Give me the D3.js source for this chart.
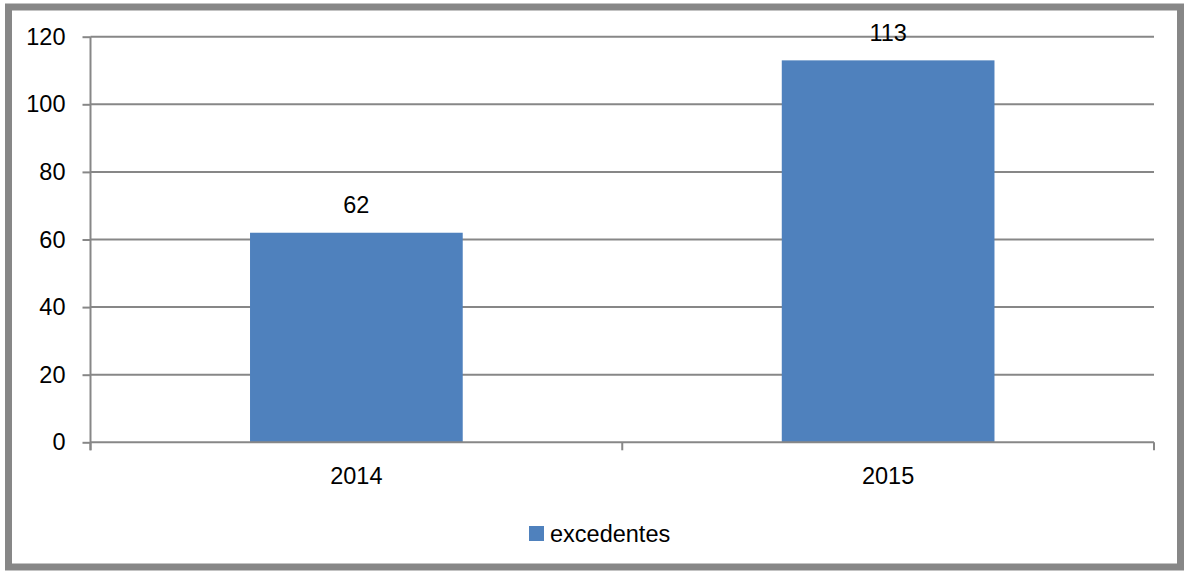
<!DOCTYPE html>
<html>
<head>
<meta charset="utf-8">
<script src="https://cdn.jsdelivr.net/npm/d3@7"></script>
<style>
  html, body { margin: 0; padding: 0; background: #fff; }
  svg { display: block; }
  text { font-family: "Liberation Sans", Arial, sans-serif; fill: #000; }
</style>
</head>
<body>
<svg id="chart" width="1184" height="572"></svg>
<script>
const categories = ["2014", "2015"];
const seriesName = "excedentes";
const values = [62, 113];
const yTicks = [0, 20, 40, 60, 80, 100, 120];

(function () {
const svg = d3.select("#chart");
const fontSize = 23.5;
const gray = "#878787";
const barColor = "#4F81BD";

// outer frame
svg.append("rect")
  .attr("x", 8.5).attr("y", 7)
  .attr("width", 1172).attr("height", 560)
  .attr("fill", "#fff")
  .attr("stroke", gray)
  .attr("stroke-width", 7);

const pLeft = 90.5, pRight = 1154, pTop = 36.7, pBottom = 442.3;

const x = d3.scaleBand().domain(categories).range([pLeft, pRight]).paddingInner(0.6).paddingOuter(0.3);
const xOuter = d3.scaleBand().domain(categories).range([pLeft, pRight]).padding(0);
const y = d3.scaleLinear().domain([0, 120]).range([pBottom, pTop]);

// gridlines
svg.append("g").selectAll("line").data(yTicks.filter(d => d !== 0)).join("line")
  .attr("x1", pLeft).attr("x2", pRight)
  .attr("y1", d => y(d)).attr("y2", d => y(d))
  .attr("stroke", gray).attr("stroke-width", 2);

// y axis
const yAxis = svg.append("g").attr("transform", `translate(${pLeft},0)`)
  .call(d3.axisLeft(y).tickValues(yTicks).tickSize(8).tickPadding(17).tickFormat(d3.format("d")));
yAxis.select(".domain").attr("stroke", gray).attr("stroke-width", 2).attr("d", `M0,${pTop}V${pBottom + 8}`);
yAxis.selectAll(".tick line").attr("stroke", gray).attr("stroke-width", 2);
yAxis.selectAll(".tick text").style("font-size", fontSize + "px").attr("fill", "#000")
  .attr("font-family", "Liberation Sans, Arial, sans-serif");

// bars
svg.append("g").selectAll("rect").data(values).join("rect")
  .attr("x", (d, i) => x(categories[i]))
  .attr("y", d => y(d))
  .attr("width", x.bandwidth())
  .attr("height", d => y(0) - y(d))
  .attr("fill", barColor);

// x axis
svg.append("line").attr("x1", pLeft).attr("x2", pRight).attr("y1", pBottom).attr("y2", pBottom)
  .attr("stroke", gray).attr("stroke-width", 2);
const boundaries = [pLeft].concat(categories.map(c => xOuter(c) + xOuter.bandwidth()));
svg.append("g").selectAll("line").data(boundaries).join("line")
  .attr("x1", d => d).attr("x2", d => d)
  .attr("y1", pBottom).attr("y2", pBottom + 8)
  .attr("stroke", gray).attr("stroke-width", 2);
svg.append("g").selectAll("text").data(categories).join("text")
  .attr("x", d => x(d) + x.bandwidth() / 2)
  .attr("y", 484)
  .attr("text-anchor", "middle")
  .style("font-size", fontSize + "px")
  .text(d => d);

// data labels
svg.append("g").selectAll("text").data(values).join("text")
  .attr("x", (d, i) => x(categories[i]) + x.bandwidth() / 2)
  .attr("y", d => y(d) - 19.5)
  .attr("text-anchor", "middle")
  .style("font-size", fontSize + "px")
  .text(d => d);

// legend
const lg = svg.append("g");
lg.append("rect").attr("x", 529).attr("y", 526).attr("width", 15).attr("height", 15).attr("fill", barColor);
lg.append("text").attr("x", 550).attr("y", 542).style("font-size", fontSize + "px").text(seriesName);
})();
</script>
</body>
</html>
